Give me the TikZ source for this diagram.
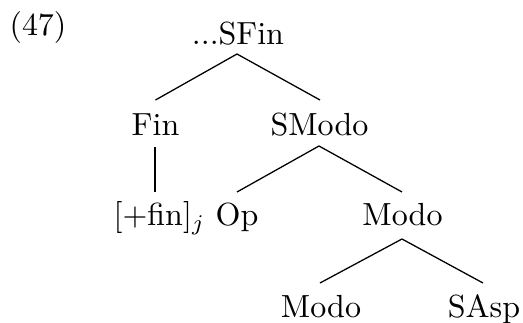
\documentclass[tikz,border=0pt]{standalone}
\usetikzlibrary{calc}
\begin{document}
\begin{tikzpicture}[x=0.3125pt,y=-0.3125pt,
  lab/.style={inner sep=0pt,anchor=base,font=\fontsize{10}{12}\selectfont},
  edge/.style={line width=0.4pt}]
\useasboundingbox (0,0) rectangle (523,323);
\node[lab] (n47) at (38,35) {(47)};
\node[lab] (sfin) at (238,44) {...SFin};
\node[lab] (fin) at (155.5,136) {Fin};
\node[lab] (smodo) at (319.5,136) {SModo};
\node[lab,anchor=base west] (plusfin) at (113,226) {[+fin]$_j$};
\node[lab] (op) at (237,226) {Op};
\node[lab] (modo) at (402.5,226) {Modo};
\node[lab] (modob) at (321,318) {Modo};
\node[lab] (sasp) at (484,318) {SAsp};
\draw[edge] ($(fin.base)+(0,-36)$) -- ($(sfin.base)+(-1,10)$) -- ($(smodo.base)+(0.5,-36)$);
\draw[edge] ($(fin.base)+(-0.5,11)$) -- ($(plusfin.base west)+(42,-34)$);
\draw[edge] ($(op.base)+(0,-34)$) -- ($(smodo.base)+(-0.5,10)$) -- ($(modo.base)+(-0.5,-34)$);
\draw[edge] ($(modob.base)+(-1,-35)$) -- ($(modo.base)+(-0.5,13)$) -- ($(sasp.base)+(-1,-35)$);
\end{tikzpicture}
\end{document}
